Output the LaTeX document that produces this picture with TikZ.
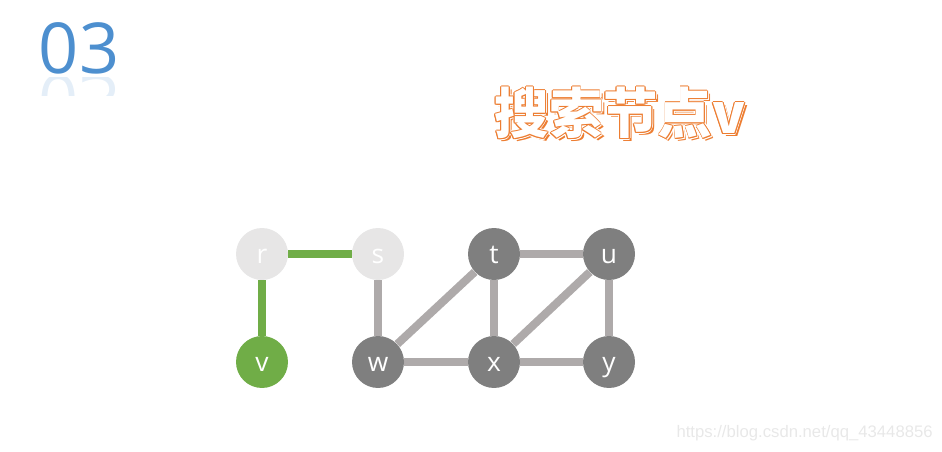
\documentclass[tikz,border=0pt]{standalone}
\usepackage{fontspec}
\setmainfont{Open Sans}
\newfontfamily\cjkfont{Noto Sans CJK SC}
\newfontfamily\urlfont{Liberation Sans}
\usetikzlibrary{positioning, calc, backgrounds}

\definecolor{numblue}{HTML}{4D8FCF}
\definecolor{titleorange}{HTML}{ED7D31}
\definecolor{edgegray}{HTML}{AEAAAA}
\definecolor{visitgreen}{HTML}{70AD47}
\definecolor{donegray}{HTML}{E7E6E6}
\definecolor{opengray}{HTML}{7F7F7F}

\begin{document}
\begin{tikzpicture}[
        x=0.02cm, y=-0.02cm,
        vertex/.style={circle, minimum size=1.04cm, inner sep=0pt, text=white, text height=12pt, text depth=1.2pt, font=\fontsize{15}{17}\selectfont},
        done/.style={vertex, fill=donegray},
        open/.style={vertex, fill=opengray},
        visit/.style={vertex, fill=visitgreen},
        edge/.style={line width=4.6pt, edgegray},
        tree/.style={line width=4.6pt, visitgreen},
        titletext/.style={font=\cjkfont\bfseries\fontsize{31}{35}\selectfont, inner sep=0pt}
    ]
    \useasboundingbox (0,0) rectangle (942,452);

    % --- Nummer ---
    \node[font=\fontsize{40}{44}\selectfont, text=numblue, inner sep=0pt] (num) at (79,48) {03};
    \begin{scope}
    \clip (30,78) rectangle (130,96);
    \node[font=\fontsize{40}{44}\selectfont, text=numblue, inner sep=0pt, opacity=0.15] (numflip) at (79,101) {\scalebox{1}[-1]{03}};
    \end{scope}

    % --- Titel ---
    \node[titletext, text=titleorange] (title-shadow) at (623,116) {搜索节点v};
    \foreach \a in {0,45,...,315}
        \node[titletext, text=white] (title-gap\a) at ($(620,113)+(\a:2)$) {搜索节点v};
    \foreach \a in {0,45,...,315}
        \node[titletext, text=titleorange] (title-ring\a) at ($(620,113)+(\a:0.9)$) {搜索节点v};
    \node[titletext, text=white] (title) at (620,113) {搜索节点v};

    % --- Knoten ---
    \node[done] (r) at (262,254) {r};
    \node[done] (s) at (378,254) {s};
    \node[open] (t) at (494,254) {t};
    \node[open] (u) at (609,254) {u};
    \node[visit] (v) at (262,362) {v};
    \node[open] (w) at (378,362) {w};
    \node[open] (x) at (494,362) {x};
    \node[open] (y) at (609,362) {y};

    % --- Kanten ---
    \begin{scope}[on background layer]
    \draw[tree] (r) -- (s);
    \draw[tree] (r) -- (v);
    \draw[edge] (s) -- (w);
    \draw[edge] (w) -- (t);
    \draw[edge] (w) -- (x);
    \draw[edge] (t) -- (x);
    \draw[edge] (t) -- (u);
    \draw[edge] (u) -- (x);
    \draw[edge] (u) -- (y);
    \draw[edge] (x) -- (y);
    \end{scope}

    % --- Quelle ---
    \node[font=\urlfont\fontsize{9.5}{11}\selectfont, text=black!9, anchor=east, inner sep=0pt] (url) at (933,433) {https://blog.csdn.net/qq\_43448856};
\end{tikzpicture}
\end{document}
